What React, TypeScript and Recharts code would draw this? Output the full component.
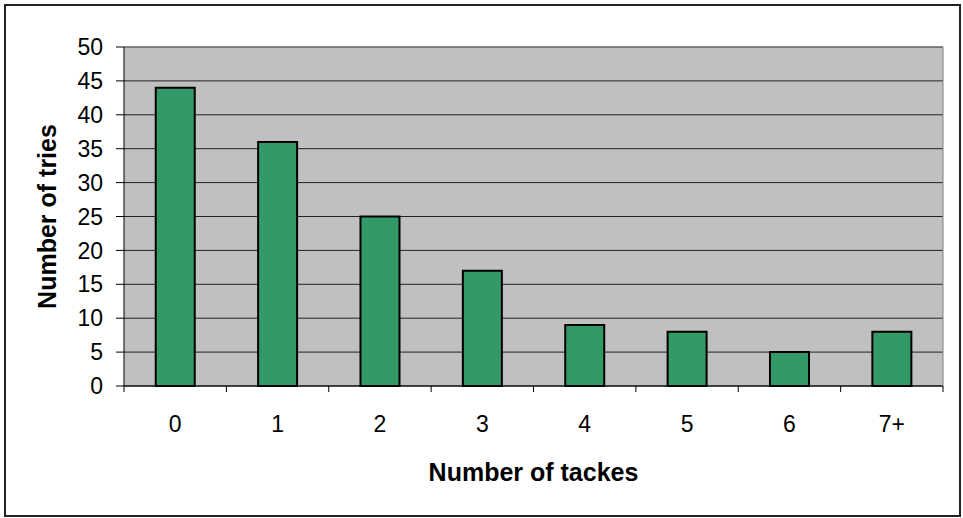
import {
  BarChart,
  Bar,
  XAxis,
  YAxis,
  CartesianGrid,
  ReferenceLine,
} from 'recharts';

// tackes per try
const categories = ['0', '1', '2', '3', '4', '5', '6', '7+'];
const tries = [44, 36, 25, 17, 9, 8, 5, 8];
const yTicks = [0, 5, 10, 15, 20, 25, 30, 35, 40, 45, 50];
const boundaryTicks = [0, 1, 2, 3, 4, 5, 6, 7, 8];

// pos = middle of each category slot, used by the boundary tick axis
const data = categories.map((cat, i) => ({ cat, pos: i + 0.5, tries: tries[i] }));

const FONT = '"Liberation Sans", Arial, sans-serif';

export default function App() {
  return (
    <div style={{ position: 'absolute', left: 0, top: 0, width: 963, height: 518, background: '#fff' }}>
      {/* outer frame */}
      <div
        style={{
          position: 'absolute',
          left: 4,
          top: 4,
          width: 957,
          height: 513,
          boxSizing: 'border-box',
          border: '2px solid #222',
        }}
      />
      <div style={{ position: 'absolute', left: 0, top: 0 }}>
        <BarChart
          width={963}
          height={518}
          data={data}
          margin={{ top: 47, right: 19, left: 0, bottom: 31 }}
          barCategoryGap="31%"
          style={{ fontFamily: FONT }}
        >
          <CartesianGrid vertical={false} fill="#c0c0c0" stroke="#222" strokeOpacity={1} />
          <XAxis
            xAxisId="b"
            dataKey="cat"
            height={100}
            tickSize={0}
            tickMargin={29}
            tickLine={false}
            axisLine={false}
            tick={{ fill: '#000', fontSize: 23 }}
            label={{
              value: 'Number of tackes',
              position: 'insideBottom',
              offset: 6,
              style: { fontSize: 25, fontWeight: 'bold', fill: '#000' },
            }}
          />
          {/* tick marks between categories */}
          <XAxis
            xAxisId="a"
            dataKey="pos"
            type="number"
            domain={[0, 8]}
            ticks={boundaryTicks}
            interval={0}
            height={1}
            tickFormatter={() => ''}
            tickSize={6}
            tickLine={{ stroke: '#000' }}
            axisLine={{ stroke: '#000' }}
            allowDataOverflow
          />
          <YAxis
            domain={[0, 50]}
            ticks={yTicks}
            width={124}
            tickSize={8}
            tickMargin={13}
            tickLine={{ stroke: '#000' }}
            axisLine={{ stroke: '#000' }}
            tick={{ fill: '#000', fontSize: 23 }}
            interval={0}
            label={{
              value: 'Number of tries',
              angle: -90,
              position: 'insideLeft',
              offset: 47,
              style: { fontSize: 25, fontWeight: 'bold', fill: '#000', textAnchor: 'middle' },
            }}
          />
          <YAxis
            yAxisId="right"
            orientation="right"
            width={1}
            domain={[0, 50]}
            tick={false}
            tickLine={false}
            axisLine={{ stroke: '#808080' }}
          />
          <ReferenceLine y={50} stroke="#808080" xAxisId="b" />
          <Bar
            dataKey="tries"
            xAxisId="b"
            fill="#339966"
            stroke="#000"
            strokeWidth={2}
            isAnimationActive={false}
          />
        </BarChart>
      </div>
    </div>
  );
}
